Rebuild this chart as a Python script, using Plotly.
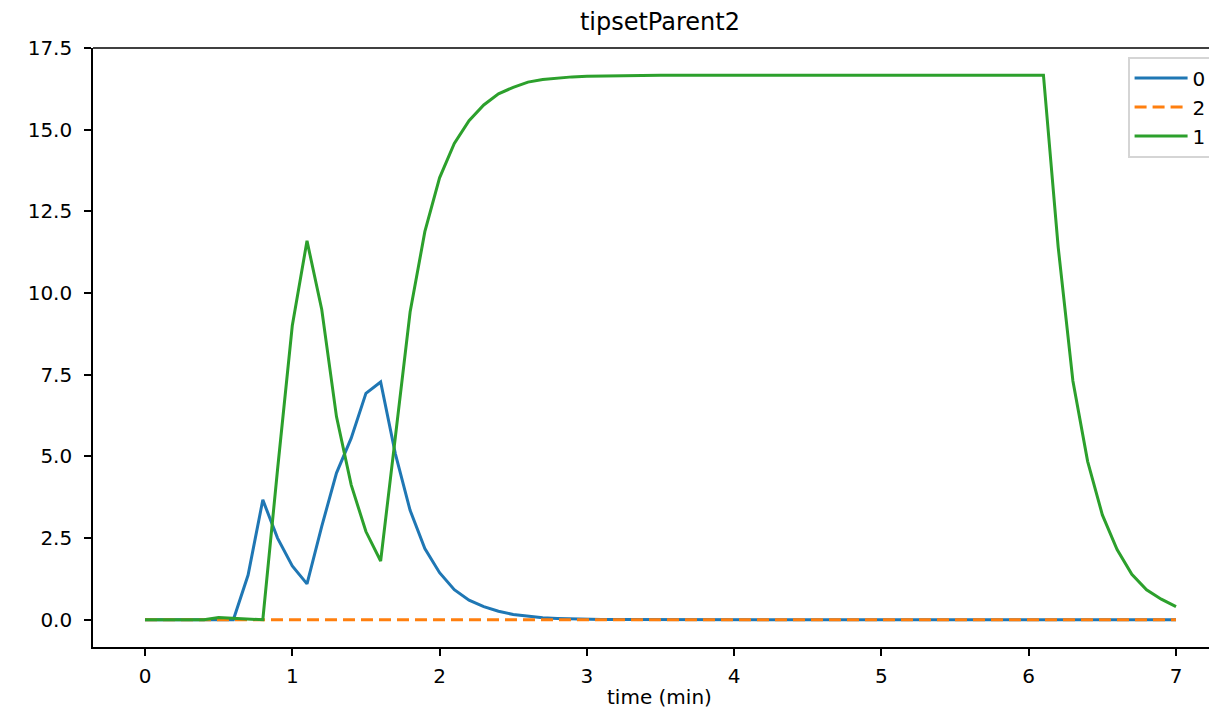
import plotly.graph_objects as go

# time axis, 0.0 .. 7.0 in steps of 0.1
time_min = [round(i * 0.1, 1) for i in range(71)]

# series "0" (blue)
s0 = [0.0, 0.0, 0.0, 0.0, 0.0, 0.0, 0.0, 1.37, 3.67, 2.5,
      1.65, 1.1, 2.86, 4.49, 5.56, 6.93, 7.28, 5.08, 3.35, 2.18,
      1.44, 0.92, 0.6, 0.4, 0.26, 0.16, 0.1, 0.06, 0.04, 0.025,
      0.015, 0.01, 0.006, 0.004, 0.002, 0.0, 0.0, 0.0, 0.0, 0.0,
      0.0, 0.0, 0.0, 0.0, 0.0, 0.0, 0.0, 0.0, 0.0, 0.0,
      0.0, 0.0, 0.0, 0.0, 0.0, 0.0, 0.0, 0.0, 0.0, 0.0,
      0.0, 0.0, 0.0, 0.0, 0.0, 0.0, 0.0, 0.0, 0.0, 0.0,
      0.0]

# series "2" (orange, dashed) - flat at zero
s2 = [0.0, 0.0, 0.0, 0.0, 0.0, 0.0, 0.0, 0.0, 0.0, 0.0,
      0.0, 0.0, 0.0, 0.0, 0.0, 0.0, 0.0, 0.0, 0.0, 0.0,
      0.0, 0.0, 0.0, 0.0, 0.0, 0.0, 0.0, 0.0, 0.0, 0.0,
      0.0, 0.0, 0.0, 0.0, 0.0, 0.0, 0.0, 0.0, 0.0, 0.0,
      0.0, 0.0, 0.0, 0.0, 0.0, 0.0, 0.0, 0.0, 0.0, 0.0,
      0.0, 0.0, 0.0, 0.0, 0.0, 0.0, 0.0, 0.0, 0.0, 0.0,
      0.0, 0.0, 0.0, 0.0, 0.0, 0.0, 0.0, 0.0, 0.0, 0.0,
      0.0]

# series "1" (green)
s1 = [0.0, 0.0, 0.01, 0.01, 0.0, 0.07, 0.04, 0.03, 0.0, 4.6,
      9.0, 11.6, 9.5, 6.22, 4.13, 2.7, 1.8, 5.6, 9.42, 11.88,
      13.53, 14.58, 15.28, 15.76, 16.1, 16.3, 16.46, 16.54, 16.59, 16.62,
      16.64, 16.65, 16.66, 16.67, 16.67, 16.67, 16.67, 16.67, 16.67, 16.67,
      16.67, 16.67, 16.67, 16.67, 16.67, 16.67, 16.67, 16.67, 16.67, 16.67,
      16.67, 16.67, 16.67, 16.67, 16.67, 16.67, 16.67, 16.67, 16.67, 16.67,
      16.67, 16.67, 11.41, 7.31, 4.85, 3.21, 2.15, 1.39, 0.92, 0.63,
      0.4]

x_ticks = [0, 1, 2, 3, 4, 5, 6, 7]
y_ticks = [0.0, 2.5, 5.0, 7.5, 10.0, 12.5, 15.0, 17.5]

FONT = "DejaVu Sans"

fig = go.Figure()
fig.add_trace(go.Scatter(x=time_min, y=s0, name="0", mode="lines",
                         line=dict(color="#1f77b4", width=3)))
fig.add_trace(go.Scatter(x=time_min, y=s2, name="2", mode="lines",
                         line=dict(color="#ff7f0e", width=3, dash="12px,6px")))
fig.add_trace(go.Scatter(x=time_min, y=s1, name="1", mode="lines",
                         line=dict(color="#2ca02c", width=3)))

# page body adds ~8px around the figure, so the figure is sized to fit inside
W, H = 1201, 703
fig.update_layout(
    width=W, height=H,
    margin=dict(l=85, r=0, t=40, b=64, autoexpand=False),
    paper_bgcolor="white", plot_bgcolor="white",
    font=dict(family=FONT, size=20, color="black"),
    title=dict(text="tipsetParent2", x=0.508, xref="paper", xanchor="center",
               y=1 - 14 / H, yref="container", yanchor="middle",
               font=dict(family=FONT, size=24, color="black")),
    legend=dict(x=0.9274, y=0.985, xanchor="left", yanchor="top",
                bgcolor="rgba(255,255,255,0.8)", bordercolor="#d5d5d5",
                borderwidth=1.6, font=dict(family=FONT, size=20),
                itemwidth=53, tracegroupgap=0),
    showlegend=True,
    shapes=[dict(type="line", xref="paper", yref="paper", x0=0, x1=1, y0=1, y1=1,
                 line=dict(color="black", width=1.6))],
    # x axis label as an annotation so it can sit lower than the margin allows
    annotations=[dict(text="time (min)", xref="paper", yref="paper", x=0.508, y=-0.0835,
                      xanchor="center", yanchor="middle", showarrow=False,
                      font=dict(family=FONT, size=20, color="black"))],
)
fig.update_xaxes(range=[-0.353, 7.224], tickvals=x_ticks, ticktext=[str(v) for v in x_ticks],
                 showgrid=False, zeroline=False, showline=True, linecolor="black", linewidth=1.6,
                 ticks="outside", ticklen=7, tickwidth=1.6, tickcolor="black",
                 ticklabelstandoff=3, automargin=False)
fig.update_yaxes(range=[-0.834, 17.504], tickvals=y_ticks, ticktext=[f"{v:.1f}" for v in y_ticks],
                 showgrid=False, zeroline=False, showline=True, linecolor="black", linewidth=1.6,
                 ticks="outside", ticklen=7, tickwidth=1.6, tickcolor="black",
                 ticklabelstandoff=8, automargin=False)

fig.write_html("out.html")
